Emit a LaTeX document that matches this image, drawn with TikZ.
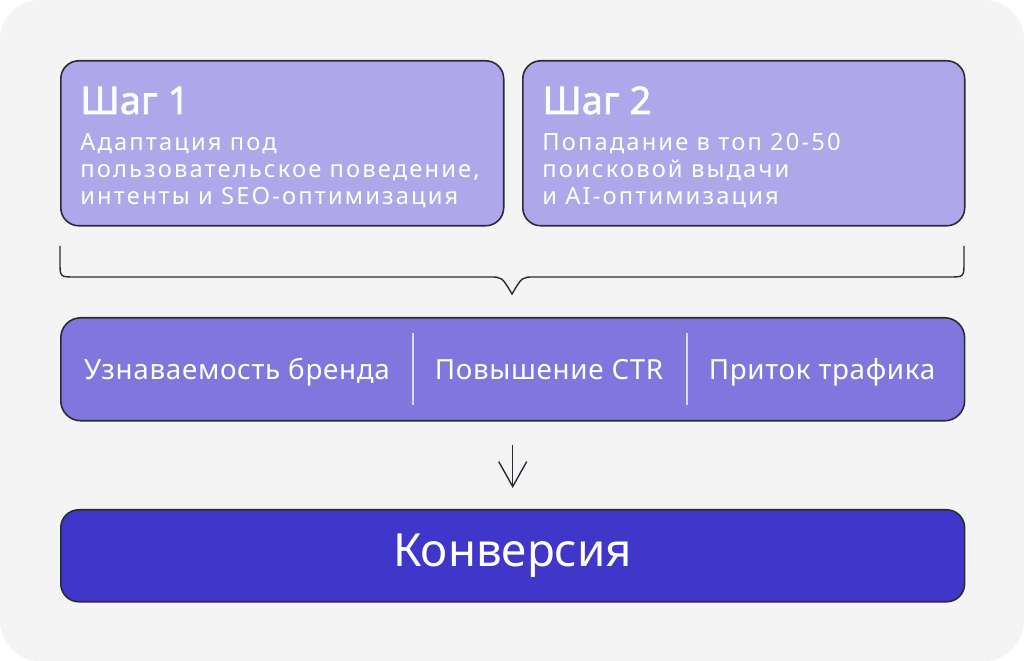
\documentclass[tikz,border=0pt]{standalone}
\usepackage{fontspec}
\setmainfont{Noto Sans}
\newfontfamily\titlefont[FakeBold=1.6]{Noto Sans}
\newfontfamily\bodyfont[LetterSpace=9]{Noto Sans}
\newfontfamily\labelfont[LetterSpace=2.5]{Noto Sans}
\usetikzlibrary{arrows.meta,positioning}
\definecolor{bgfill}{HTML}{F4F4F4}
\definecolor{stepfill}{HTML}{AEA8EA}
\definecolor{barfill}{HTML}{7F77DD}
\definecolor{convfill}{HTML}{4036C9}
\definecolor{edgecol}{HTML}{2B2B33}
\definecolor{divcol}{HTML}{DCD9F6}
\tikzset
{
    stepbox/.style   = {rectangle, rounded corners=0.36cm, draw=edgecol, line width=0.9pt, fill=stepfill, anchor=north west, minimum height=3.3cm},
    resultbar/.style = {rectangle, rounded corners=0.4cm, draw=edgecol, line width=0.9pt, fill=barfill, anchor=north west, minimum width=18.08cm, minimum height=2.06cm},
    convbox/.style   = {rectangle, rounded corners=0.36cm, draw=edgecol, line width=0.9pt, fill=convfill, anchor=north west, minimum width=18.08cm, minimum height=1.84cm},
    steptitle/.style = {text=white, inner sep=0, anchor=base west, font=\titlefont\fontsize{21.7}{24}\selectfont},
    steptext/.style  = {text=white, inner sep=0, anchor=north west, align=left, font=\bodyfont\fontsize{13.5}{15.3}\selectfont},
    barlabel/.style  = {text=white, inner sep=0, anchor=base, font=\labelfont\fontsize{15.8}{18}\selectfont},
    divider/.style   = {draw=divcol, line width=0.75pt},
    bracket/.style   = {draw=edgecol, line width=0.8pt},
    flowarrow/.style = {draw=edgecol, line width=0.8pt, -{Straight Barb[length=0.5cm, width=0.56cm]}}
}
\begin{document}
\begin{tikzpicture}[x=0.02cm, y=-0.02cm]
\useasboundingbox (0,0) rectangle (1024,661);
\path [fill=bgfill, rounded corners=0.8cm] (0,0) rectangle (1024,661);
% two steps
\node [stepbox, minimum width=8.86cm] at (60,60) (step1) {};
\node [stepbox, minimum width=8.84cm] at (522,60) (step2) {};
\node [steptitle] at (80,114) (t1) {Шаг 1};
\node [steptext] at (80,133) (d1) {Адаптация под\\пользовательское поведение,\\интенты и SEO-оптимизация};
\node [steptitle] at (542,114) (t2) {Шаг 2};
\node [steptext] at (542,133) (d2) {Попадание в топ 20-50\\поисковой выдачи\\и AI-оптимизация};
% brace under both steps
\draw [bracket] (60,246) -- (60,262) .. controls (60,277) .. (75,277) -- (490,277)
  .. controls (502,277) .. (512,294) .. controls (522,277) .. (534,277) -- (949,277)
  .. controls (964,277) .. (964,262) -- (964,246);
% results
\node [resultbar] at (60,317) (bar) {};
\node [barlabel] at (237,380) (brand) {Узнаваемость бренда};
\node [barlabel] at (549,380) (ctr) {Повышение CTR};
\node [barlabel] at (822,380) (traffic) {Приток трафика};
\draw [divider] (413,333) -- (413,405);
\draw [divider] (687,333) -- (687,405);
% conversion
\node [convbox] at (60,509) (conv) {};
\node [text=white, font=\fontsize{26}{30}\selectfont] at (conv.center) (convtext) {Конверсия};
\draw [flowarrow, shorten <=0.46cm, shorten >=0.42cm] (bar) -- (conv);
\end{tikzpicture}
\end{document}
